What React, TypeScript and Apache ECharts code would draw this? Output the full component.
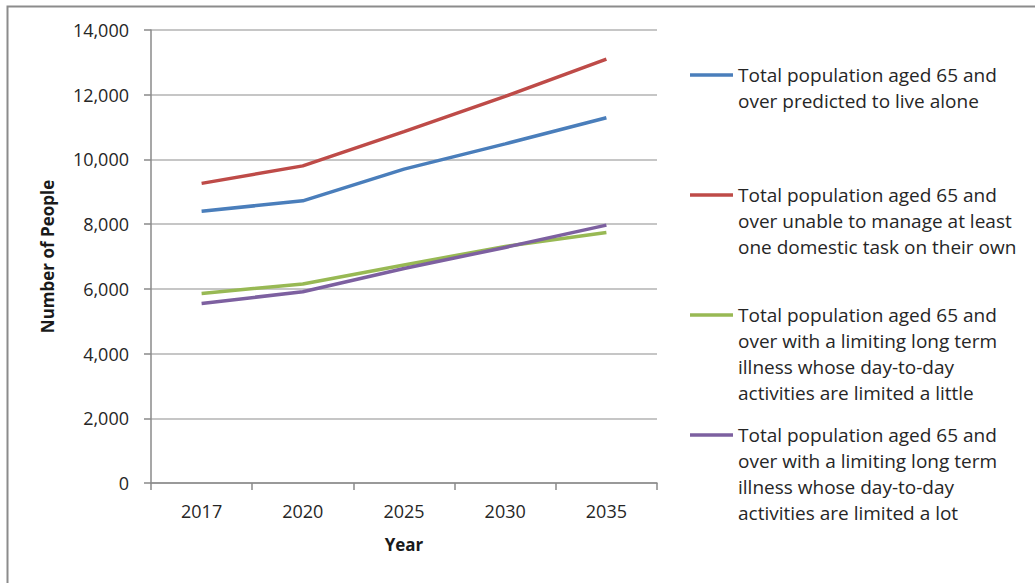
import React, { useEffect, useRef } from "react";
import * as echarts from "echarts";

const years = ["2017", "2020", "2025", "2030", "2035"];

const seriesNames = [
  "Total population aged 65 and\nover predicted to live alone",
  "Total population aged 65 and\nover unable to manage at least\none domestic task on their own",
  "Total population aged 65 and\nover with a limiting long term\nillness whose day-to-day\nactivities are limited a little",
  "Total population aged 65 and\nover with a limiting long term\nillness whose day-to-day\nactivities are limited a lot",
];

const liveAlone = [8400, 8720, 9700, 10480, 11290];
const domesticTask = [9260, 9800, 10860, 11950, 13100];
const limitedLittle = [5860, 6150, 6740, 7310, 7740];
const limitedLot = [5550, 5910, 6630, 7280, 7970];

const seriesColors = ["#4a7ebb", "#be4b48", "#98b954", "#7d60a0"];

const yTicks = { min: 0, max: 14000, interval: 2000 };

const FONT = "'Open Sans', sans-serif";
const LINE_H = 26;
// legend layout: key line x-range, text x, first-line centre of each entry
const KEY_X0 = 690;
const KEY_X1 = 733;
const TEXT_X = 738;
const legendRows = [75, 195, 315, 435];

export default function App() {
  const ref = useRef<HTMLDivElement>(null);

  useEffect(() => {
    if (!ref.current) return;
    const chart = echarts.init(ref.current, undefined, { renderer: "svg" });
    const values = [liveAlone, domesticTask, limitedLittle, limitedLot];

    // Legend drawn as key lines with wrapped labels, first line aligned to the key
    const legendGraphics = seriesNames.flatMap((name, i) => [
      {
        type: "line",
        shape: { x1: KEY_X0, y1: legendRows[i], x2: KEY_X1, y2: legendRows[i] },
        style: { stroke: seriesColors[i], lineWidth: 3.5 },
        silent: true,
      },
      {
        type: "text",
        x: TEXT_X,
        y: legendRows[i] - LINE_H / 2,
        style: {
          text: name,
          fontFamily: FONT,
          fontSize: 19,
          lineHeight: LINE_H,
          fill: "#262626",
          verticalAlign: "top",
          align: "left",
        },
        silent: true,
      },
    ]);

    chart.setOption({
      animation: false,
      backgroundColor: "#ffffff",
      grid: { left: 151, right: 378, top: 30, bottom: 100 },
      xAxis: {
        type: "category",
        data: years,
        boundaryGap: true,
        name: "Year",
        nameLocation: "middle",
        nameGap: 53,
        nameTextStyle: { fontFamily: FONT, fontSize: 17, fontWeight: "bold", color: "#1a1a1a" },
        axisLine: { show: true, lineStyle: { color: "#8a8a8a", width: 1.5 } },
        axisTick: { show: true, length: 7, alignWithLabel: false, lineStyle: { color: "#8a8a8a", width: 1.5 } },
        axisLabel: { fontFamily: FONT, fontSize: 18, color: "#262626", margin: 19 },
        splitLine: { show: false },
      },
      yAxis: {
        type: "value",
        min: yTicks.min,
        max: yTicks.max,
        interval: yTicks.interval,
        name: "Number of People",
        nameLocation: "middle",
        nameGap: 95,
        nameRotate: 90,
        nameTextStyle: { fontFamily: FONT, fontSize: 17, fontWeight: "bold", color: "#1a1a1a" },
        axisLine: { show: true, lineStyle: { color: "#8a8a8a", width: 1.5 } },
        axisTick: { show: true, length: 7, lineStyle: { color: "#8a8a8a", width: 1.5 } },
        axisLabel: {
          fontFamily: FONT,
          fontSize: 18,
          color: "#262626",
          margin: 22,
          formatter: (v: number) => v.toLocaleString("en-US"),
        },
        splitLine: { show: true, lineStyle: { color: "#b3b3b3", width: 1.5 } },
      },
      series: values.map((data, i) => ({
        name: seriesNames[i],
        type: "line",
        data,
        symbol: "none",
        lineStyle: { color: seriesColors[i], width: 3.5 },
        itemStyle: { color: seriesColors[i] },
        z: 3 + i,
      })),
      graphic: [
        {
          type: "rect",
          left: 5,
          top: 4,
          shape: { width: 1200, height: 800 },
          style: { fill: "none", stroke: "#8c8c8c", lineWidth: 2 },
          silent: true,
          z: -1,
        },
        ...legendGraphics,
      ],
    });

    return () => chart.dispose();
  }, []);

  return (
    <div
      ref={ref}
      style={{ position: "fixed", left: 0, top: 0, width: 1035, height: 583, background: "#fff" }}
    />
  );
}
